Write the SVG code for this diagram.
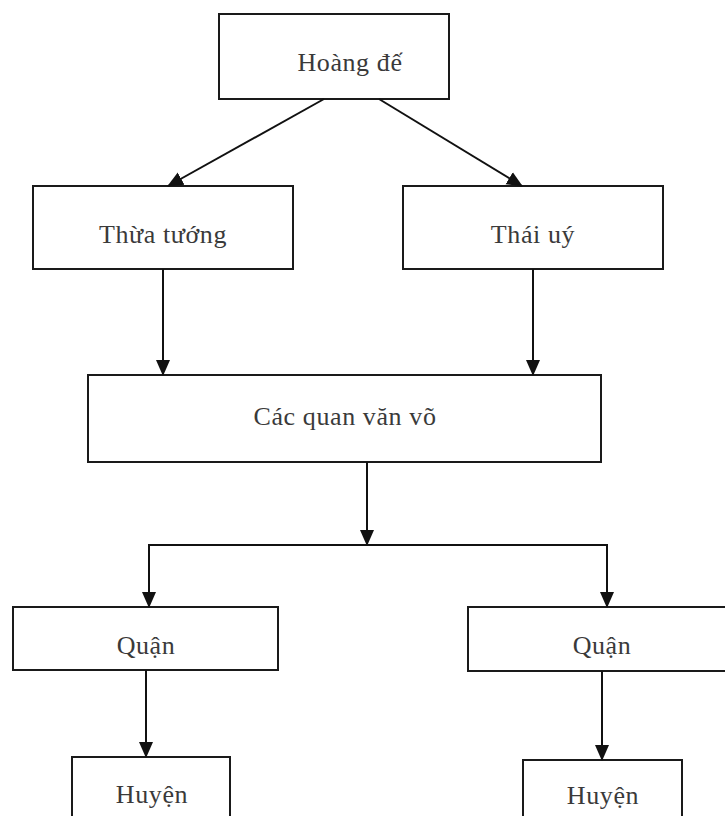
<svg xmlns="http://www.w3.org/2000/svg" width="725" height="816" viewBox="0 0 725 816">
<style>
.box{fill:#fff;stroke:#1a1a1a;stroke-width:2}
.lbl{font-family:"Liberation Serif",serif;font-size:26px;letter-spacing:0.6px;fill:#3a3a3a;text-anchor:middle}
.con{fill:none;stroke:#111;stroke-width:2}
</style>
<defs>
<marker id="ah" markerWidth="16" markerHeight="16" refX="15" refY="8" orient="auto" markerUnits="userSpaceOnUse">
<path d="M0,1 L16,8 L0,15 Z" fill="#111"/>
</marker>
</defs>
<rect width="725" height="816" fill="#fff"/>
<g id="hoangde"><rect class="box" x="219" y="14" width="230" height="85"/><text class="lbl" x="350" y="71">Hoàng đế</text></g>
<g id="thuatuong"><rect class="box" x="33" y="186" width="260" height="83"/><text class="lbl" x="163" y="243">Thừa tướng</text></g>
<g id="thaiuy"><rect class="box" x="403" y="186" width="260" height="83"/><text class="lbl" x="533" y="243">Thái uý</text></g>
<g id="cacquan"><rect class="box" x="88" y="375" width="513" height="87"/><text class="lbl" x="345" y="425">Các quan văn võ</text></g>
<g id="quan1"><rect class="box" x="13" y="607" width="265" height="63"/><text class="lbl" x="146" y="654">Quận</text></g>
<g id="quan2"><rect class="box" x="468" y="607" width="270" height="64"/><text class="lbl" x="602" y="654">Quận</text></g>
<g id="huyen1"><rect class="box" x="72" y="757" width="158" height="70"/><text class="lbl" x="152" y="803">Huyện</text></g>
<g id="huyen2"><rect class="box" x="523" y="760" width="159" height="70"/><text class="lbl" x="603" y="804">Huyện</text></g>
<g id="connectors">
<line class="con" x1="324" y1="99" x2="168" y2="186" marker-end="url(#ah)"/>
<line class="con" x1="379" y1="99" x2="522" y2="186" marker-end="url(#ah)"/>
<line class="con" x1="163" y1="269" x2="163" y2="375" marker-end="url(#ah)"/>
<line class="con" x1="533" y1="269" x2="533" y2="375" marker-end="url(#ah)"/>
<line class="con" x1="367" y1="462" x2="367" y2="545" marker-end="url(#ah)"/>
<polyline class="con" points="149,600 149,545 607,545 607,600"/>
<line class="con" x1="149" y1="590" x2="149" y2="607" marker-end="url(#ah)"/>
<line class="con" x1="607" y1="590" x2="607" y2="607" marker-end="url(#ah)"/>
<line class="con" x1="146" y1="670" x2="146" y2="757" marker-end="url(#ah)"/>
<line class="con" x1="602" y1="671" x2="602" y2="760" marker-end="url(#ah)"/>
</g>
</svg>
